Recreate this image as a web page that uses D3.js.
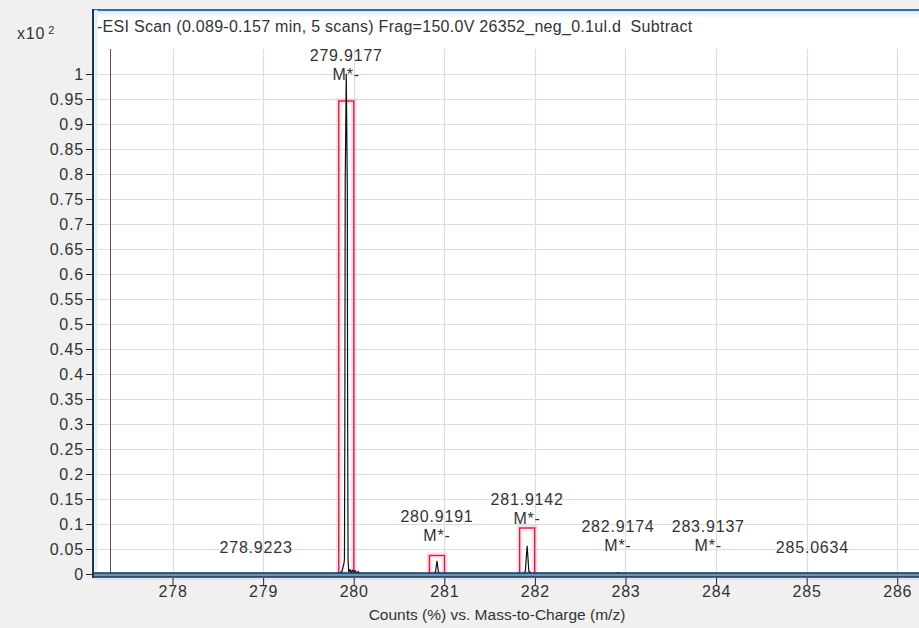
<!DOCTYPE html>
<html>
<head>
<meta charset="utf-8">
<script src="https://cdn.jsdelivr.net/npm/d3@7/dist/d3.min.js"></script>
<style>
  html, body { margin: 0; padding: 0; background: #f0f0f0; }
  svg { display: block; }
  text { font-family: "Liberation Sans", Arial, sans-serif; fill: #333333; }
</style>
</head>
<body>
<svg id="chart" width="919" height="628"></svg>
<script>
// ---- data ---------------------------------------------------------------
const titleText = "-ESI Scan (0.089-0.157 min, 5 scans) Frag=150.0V 26352_neg_0.1ul.d  Subtract";
const xAxisTitle = "Counts (%) vs. Mass-to-Charge (m/z)";
const yScaleNote = "x10";
const yScaleExp = "2";

const xTicks = [278, 279, 280, 281, 282, 283, 284, 285, 286];
const yTicks = [0, 0.05, 0.1, 0.15, 0.2, 0.25, 0.3, 0.35, 0.4, 0.45, 0.5,
                0.55, 0.6, 0.65, 0.7, 0.75, 0.8, 0.85, 0.9, 0.95, 1];

// profile trace (m/z, counts x10^2)
const traceMz = [277.122, 279.84, 279.872, 279.885, 279.893, 279.8977, 279.902, 279.906,
                 279.9177, 279.929, 279.933, 279.9377, 279.945, 279.958, 279.972, 279.985,
                 280.0, 280.015, 280.03, 280.05, 280.07, 280.2, 280.88, 280.903,
                 280.9191, 280.935, 280.96, 281.87, 281.895, 281.906, 281.9142, 281.922,
                 281.933, 281.96, 282.89, 282.9174, 282.945, 286.24];
const traceCounts = [0, 0, 0.006, 0.016, 0.022, 0.03, 0.30, 0.78,
                     1.0, 0.78, 0.30, 0.03, 0.004, 0.009, 0.002, 0.008,
                     0.003, 0.007, 0.002, 0.005, 0, 0, 0, 0.004,
                     0.026, 0.004, 0, 0, 0.006, 0.036, 0.056, 0.036,
                     0.006, 0, 0, 0.003, 0, 0];

// marker line at the start of the acquired range
const markerMz = [277.31];
const markerTop = [1.05];

// labelled peaks
const peakMz = [278.9223, 279.9177, 280.9191, 281.9142, 282.9174, 283.9137, 285.0634];
const peakSpecies = ["", "M*-", "M*-", "M*-", "M*-", "M*-", ""];
const peakLabelLevel = [0.055, 1.0, 0.078, 0.112, 0.058, 0.058, 0.055];

// predicted isotope boxes (centre m/z, expected height)
const boxMz = [279.9177, 280.9191, 281.9142];
const boxHeight = [0.946, 0.037, 0.092];
const boxHalfWidth = 0.083;

// ---- layout -------------------------------------------------------------
const W = 919, H = 628;
const plotLeft = 93, plotRight = 919, plotTop = 10, zeroY = 574;
const fontSize = 16, spacing = 0.8;

const x = d3.scaleLinear().domain([277.122, 286.24]).range([plotLeft, plotRight]);
const y = d3.scaleLinear().domain([0, 1.05]).range([zeroY, 49]);

const svg = d3.select("#chart");

// window background and white plot panel
svg.append("rect").attr("width", W).attr("height", H).attr("fill", "#f0f0f0");
svg.append("rect").attr("x", plotLeft).attr("y", plotTop)
   .attr("width", plotRight - plotLeft).attr("height", zeroY + 3 - plotTop)
   .attr("fill", "#ffffff");

// soft blue band under the top border
const defs = svg.append("defs");
const g1 = defs.append("linearGradient").attr("id", "topBand")
   .attr("x1", 0).attr("y1", 0).attr("x2", 0).attr("y2", 1);
g1.append("stop").attr("offset", 0).attr("stop-color", "#cfe4f4");
g1.append("stop").attr("offset", 1).attr("stop-color", "#ffffff").attr("stop-opacity", 0);
svg.append("rect").attr("x", plotLeft).attr("y", plotTop + 1)
   .attr("width", plotRight - plotLeft).attr("height", 9).attr("fill", "url(#topBand)");
svg.append("line").attr("x1", plotLeft).attr("x2", plotRight)
   .attr("y1", plotTop).attr("y2", plotTop)
   .attr("stroke", "#3d6c99").attr("stroke-width", 2);

// title
svg.append("text").attr("x", plotLeft + 4).attr("y", 32)
   .attr("font-size", fontSize).attr("letter-spacing", 0.28)
   .style("white-space", "pre").text(titleText);

// grid
svg.append("g").selectAll("line").data(yTicks.filter(d => d > 0)).join("line")
   .attr("x1", plotLeft).attr("x2", plotRight)
   .attr("y1", d => Math.round(y(d)) + 0.5).attr("y2", d => Math.round(y(d)) + 0.5)
   .attr("stroke", "#dcdcdc").attr("stroke-width", 1.2);
svg.append("g").selectAll("line").data(xTicks).join("line")
   .attr("y1", y(1.05)).attr("y2", zeroY)
   .attr("x1", d => Math.round(x(d)) + 0.5).attr("x2", d => Math.round(x(d)) + 0.5)
   .attr("stroke", "#dcdcdc").attr("stroke-width", 1.2);

// marker line
svg.append("g").selectAll("line").data(markerMz).join("line")
   .attr("x1", d => Math.round(x(d)) + 0.5).attr("x2", d => Math.round(x(d)) + 0.5)
   .attr("y1", (d, i) => y(markerTop[i])).attr("y2", zeroY)
   .attr("stroke", "#555").attr("stroke-width", 1);

// predicted isotope boxes with a soft pink halo
const boxes = svg.append("g");
boxes.selectAll("rect.halo").data(boxMz).join("rect").attr("class", "halo")
   .attr("x", d => x(d - boxHalfWidth)).attr("width", d => x(d + boxHalfWidth) - x(d - boxHalfWidth))
   .attr("y", (d, i) => y(boxHeight[i])).attr("height", (d, i) => zeroY - y(boxHeight[i]))
   .attr("fill", "none").attr("stroke", "#f7c6d8").attr("stroke-width", 6).attr("opacity", 0.55);
boxes.selectAll("rect.box").data(boxMz).join("rect").attr("class", "box")
   .attr("x", d => x(d - boxHalfWidth)).attr("width", d => x(d + boxHalfWidth) - x(d - boxHalfWidth))
   .attr("y", (d, i) => y(boxHeight[i])).attr("height", (d, i) => zeroY - y(boxHeight[i]))
   .attr("fill", "none").attr("stroke", "#d2203c").attr("stroke-width", 1.4);

// spectrum trace
const line = d3.line().x((d, i) => x(traceMz[i])).y(d => y(d));
svg.append("path").datum(traceCounts).attr("d", line)
   .attr("fill", "none").attr("stroke", "#111").attr("stroke-width", 1.2)
   .attr("stroke-linejoin", "round");

// peak labels
const labels = svg.append("g").attr("font-size", fontSize).attr("text-anchor", "middle")
   .attr("letter-spacing", spacing);
peakMz.forEach((mz, i) => {
  const cy = y(peakLabelLevel[i]);
  const hasSpecies = peakSpecies[i] !== "";
  labels.append("text").attr("x", x(mz)).attr("y", (hasSpecies ? cy - 19 : cy) + 6)
        .text(mz.toFixed(4));
  if (hasSpecies) {
    labels.append("text").attr("x", x(mz)).attr("y", cy + 6).text(peakSpecies[i]);
  }
});

// axes: double-line frame on the left and bottom
svg.append("rect").attr("x", plotLeft - 1).attr("y", zeroY - 1)
   .attr("width", plotRight - plotLeft + 1).attr("height", 4)
   .attr("fill", "#6b93b9");
svg.append("line").attr("x1", plotLeft - 1).attr("x2", plotRight).attr("y1", zeroY - 1).attr("y2", zeroY - 1)
   .attr("stroke", "#1c3553").attr("stroke-width", 1.5);
svg.append("line").attr("x1", plotLeft - 1).attr("x2", plotRight).attr("y1", zeroY + 3).attr("y2", zeroY + 3)
   .attr("stroke", "#1c3553").attr("stroke-width", 1.5);
svg.append("line").attr("x1", plotLeft - 1).attr("x2", plotRight).attr("y1", zeroY + 5).attr("y2", zeroY + 5)
   .attr("stroke", "#d3e4f2").attr("stroke-width", 1.5);
svg.append("line").attr("x1", plotLeft + 3).attr("x2", plotLeft + 3).attr("y1", plotTop).attr("y2", zeroY - 2)
   .attr("stroke", "#dff0fb").attr("stroke-width", 3);
svg.append("line").attr("x1", plotLeft).attr("x2", plotLeft).attr("y1", plotTop - 1).attr("y2", zeroY + 4)
   .attr("stroke", "#1c3553").attr("stroke-width", 2);

// y axis ticks and labels
const yAxis = d3.axisLeft(y).tickValues(yTicks).tickSize(6).tickPadding(2)
   .tickFormat(d => String(d));
const gy = svg.append("g").attr("transform", `translate(${plotLeft - 1},0)`).call(yAxis);
gy.select(".domain").remove();
gy.selectAll(".tick line").attr("stroke", "#222");
gy.selectAll(".tick text").attr("font-size", fontSize).attr("font-family", null)
  .attr("fill", "#333").attr("letter-spacing", spacing);

// x axis ticks and labels
const xAxis = d3.axisBottom(x).tickValues(xTicks).tickSize(7).tickPadding(1)
   .tickFormat(d => String(d));
const gx = svg.append("g").attr("transform", `translate(0,${zeroY + 4})`).call(xAxis);
gx.select(".domain").remove();
gx.selectAll(".tick line").attr("stroke", "#222");
gx.selectAll(".tick text").attr("font-size", fontSize).attr("font-family", null)
  .attr("fill", "#333").attr("letter-spacing", spacing);

// axis titles
const note = svg.append("text").attr("x", 36).attr("y", 39).attr("font-size", fontSize)
   .attr("text-anchor", "middle").attr("letter-spacing", spacing);
note.append("tspan").text(yScaleNote);
note.append("tspan").attr("dx", 3).attr("dy", -5).attr("font-size", 11).text(yScaleExp);
svg.append("text").attr("x", 497).attr("y", 620)
   .attr("font-size", 15.5).attr("text-anchor", "middle")
   .text(xAxisTitle);
</script>
</body>
</html>
